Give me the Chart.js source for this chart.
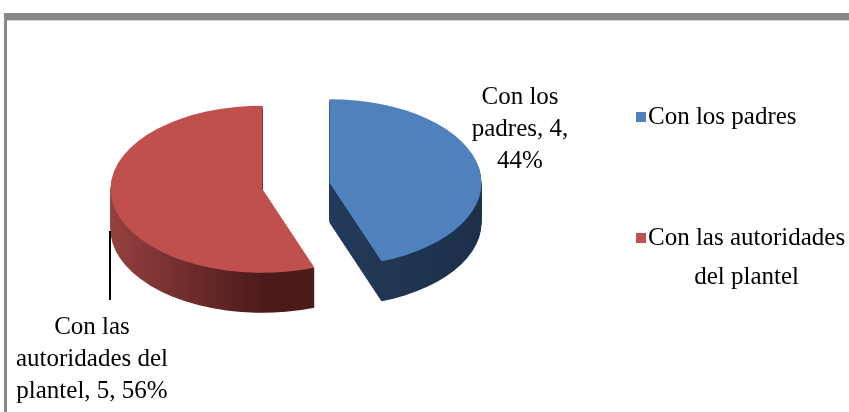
<!DOCTYPE html>
<html>
<head>
<meta charset="utf-8">
<script src="https://cdn.jsdelivr.net/npm/chart.js@4/dist/chart.umd.min.js"></script>
<style>
  html, body { margin: 0; padding: 0; background: #fff; overflow: hidden; }
  #frame {
    position: absolute; left: 4px; top: 13px; width: 900px; height: 500px;
    border-top: 7px solid #878787; border-left: 3px solid #8a8a8a;
    box-shadow: inset 0 1px 0 #d0d0d0;
  }
  #wrap { position: absolute; left: 0; top: 0; width: 849px; height: 412px; }
</style>
</head>
<body>
<div id="frame"></div>
<div id="wrap"><canvas id="pie-chart" width="849" height="412"></canvas></div>
<script>
const categories = ['Con los padres', 'Con las autoridades del plantel'];
const counts = [4, 5];
const sliceColors = ['#4F81BD', '#C0504D'];

const FONT = '25px "Liberation Serif", "Times New Roman", serif';
const TILT = 0.55;   // vertical squash of the pie
const DEPTH = 40;    // thickness of the 3d side
const EXPLODE = 34;  // how far each slice is pulled out

function wrapText(ctx, text, maxWidth) {
  const words = text.split(' ');
  const lines = [];
  let line = '';
  words.forEach(w => {
    const test = line ? line + ' ' + w : w;
    if (line && ctx.measureText(test).width > maxWidth) {
      lines.push(line);
      line = w;
    } else {
      line = test;
    }
  });
  if (line) lines.push(line);
  return lines;
}

// 3d-ish pie: squash the circle and stack darker copies below it
const pie3d = {
  id: 'pie3d',
  beforeDatasetDraw(chart, args) {
    const ctx = chart.ctx;
    const arcs = args.meta.data;
    const cy = (chart.chartArea.top + chart.chartArea.bottom) / 2;
    const cx = (chart.chartArea.left + chart.chartArea.right) / 2;
    const r = arcs[0].outerRadius;

    const blueSide = ctx.createLinearGradient(cx, 0, cx + r + 40, 0);
    blueSide.addColorStop(0, '#223a5a');
    blueSide.addColorStop(1, '#1b2d46');
    const redSide = ctx.createLinearGradient(cx - r - 40, 0, cx, 0);
    redSide.addColorStop(0, '#a84a47');
    redSide.addColorStop(1, '#4b1b1a');
    const sides = [blueSide, redSide];

    for (let d = DEPTH; d >= 0; d--) {
      arcs.forEach((arc, i) => {
        const mid = (arc.startAngle + arc.endAngle) / 2;
        ctx.save();
        ctx.translate(0, cy + d);
        ctx.scale(1, TILT);
        ctx.translate(0, -cy);
        ctx.translate(Math.cos(mid) * EXPLODE, Math.sin(mid) * EXPLODE);
        const orig = arc.options.backgroundColor;
        if (d > 0) arc.options.backgroundColor = sides[i];
        arc.draw(ctx);
        arc.options.backgroundColor = orig;
        ctx.restore();
      });
    }
    return false;
  },
  afterDraw(chart) {
    const ctx = chart.ctx;
    const data = chart.data.datasets[0].data;
    const total = data.reduce((a, b) => a + b, 0);
    ctx.save();
    ctx.font = FONT;
    ctx.fillStyle = '#000';
    ctx.textAlign = 'center';
    ctx.textBaseline = 'middle';

    // data labels
    const labelSpots = [
      { x: 520, y: 97, w: 112 },
      { x: 92, y: 327, w: 176 }
    ];
    chart.data.labels.forEach((lab, i) => {
      const pct = Math.round(data[i] / total * 100);
      const text = lab + ', ' + data[i] + ', ' + pct + '%';
      const lines = wrapText(ctx, text, labelSpots[i].w);
      lines.forEach((ln, j) => ctx.fillText(ln, labelSpots[i].x, labelSpots[i].y + j * 32));
    });

    // leader line for the red slice
    ctx.strokeStyle = '#000';
    ctx.lineWidth = 2;
    ctx.beginPath();
    ctx.moveTo(110, 231);
    ctx.lineTo(110, 300);
    ctx.stroke();

    // legend
    const legendY = [117, 238];
    chart.data.labels.forEach((lab, i) => {
      const lines = wrapText(ctx, lab, 205);
      const bw = Math.max(...lines.map(l => ctx.measureText(l).width));
      ctx.fillStyle = sliceColors[i];
      ctx.fillRect(636, legendY[i] - 5, 10, 10);
      ctx.fillStyle = '#000';
      lines.forEach((ln, j) => ctx.fillText(ln, 648 + bw / 2, legendY[i] + j * 39));
    });
    ctx.restore();
  }
};

const ctx = document.getElementById('pie-chart').getContext('2d');
new Chart(ctx, {
  type: 'pie',
  data: {
    labels: categories,
    datasets: [{
      data: counts,
      backgroundColor: sliceColors,
      borderWidth: 0
    }]
  },
  options: {
    responsive: false,
    animation: false,
    radius: 152,
    layout: { padding: { left: 0, right: 257, top: 0, bottom: 40 } },
    plugins: {
      legend: { display: false },
      tooltip: { enabled: false }
    }
  },
  plugins: [pie3d]
});
</script>
</body>
</html>
